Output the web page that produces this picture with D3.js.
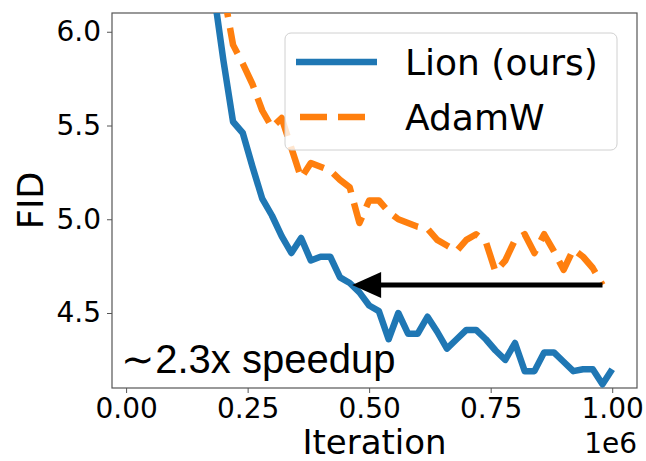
<!DOCTYPE html>
<html lang="en">
<head>
<meta charset="UTF-8">
<title>FID vs Iteration</title>
<script src="https://d3js.org/d3.v7.min.js"></script>
<style>
  body { margin: 0; background: #fff; }
  text { font-family: "DejaVu Sans", sans-serif; fill: #000; }
</style>
</head>
<body>
<div id="chart"></div>
<script>
// Data (iterations in units of 1e6)
const lionIter = [0.18, 0.20, 0.22, 0.24, 0.26, 0.28, 0.30, 0.32, 0.34, 0.36, 0.38, 0.40, 0.42, 0.44,
  0.46, 0.48, 0.50, 0.52, 0.54, 0.56, 0.58, 0.60, 0.62, 0.64, 0.66, 0.68, 0.70, 0.72, 0.74, 0.76,
  0.78, 0.80, 0.82, 0.84, 0.86, 0.88, 0.90, 0.92, 0.94, 0.96, 0.98, 1.00];
const lionFid = [6.22, 5.85, 5.52, 5.46, 5.28, 5.11, 5.02, 4.91, 4.82, 4.90, 4.78, 4.80, 4.80, 4.69,
  4.66, 4.61, 4.54, 4.51, 4.36, 4.50, 4.39, 4.39, 4.48, 4.40, 4.31, 4.36, 4.41, 4.41, 4.36, 4.30,
  4.25, 4.34, 4.19, 4.19, 4.29, 4.29, 4.24, 4.19, 4.20, 4.20, 4.12, 4.20];

const adamIter = [0.20, 0.22, 0.24, 0.26, 0.28, 0.30, 0.32, 0.34, 0.36, 0.38, 0.40, 0.42, 0.44,
  0.46, 0.48, 0.50, 0.52, 0.54, 0.56, 0.58, 0.60, 0.62, 0.64, 0.66, 0.68, 0.70, 0.72, 0.74, 0.76,
  0.78, 0.80, 0.82, 0.84, 0.86, 0.88, 0.90, 0.92, 0.94, 0.96, 0.98];
const adamFid = [6.22, 5.93, 5.83, 5.72, 5.58, 5.49, 5.54, 5.38, 5.22, 5.30, 5.28, 5.26, 5.21,
  5.17, 4.98, 5.10, 5.10, 5.04, 5.00, 4.98, 4.96, 4.95, 4.89, 4.86, 4.83, 4.89, 4.92, 4.88, 4.72,
  4.78, 4.89, 4.92, 4.82, 4.92, 4.83, 4.73, 4.84, 4.80, 4.74, 4.65];

const seriesNames = ["Lion (ours)", "AdamW"];
const xTicks = [0.00, 0.25, 0.50, 0.75, 1.00];
const yTicks = [4.5, 5.0, 5.5, 6.0];

// speedup arrow (data coords) and note
const arrowFrom = [0.98, 4.65];
const arrowTo = [0.465, 4.65];
const noteText = "\u223C2.3x speedup";
const notePos = [-0.01, 4.18];

const W = 646, H = 461;
const margin = {top: 13, right: 9, bottom: 73, left: 112};

const x = d3.scaleLinear().domain([-0.029, 1.051]).range([margin.left, W - margin.right]);
const y = d3.scaleLinear().domain([4.1, 6.1]).range([H - margin.bottom, margin.top]);

const svg = d3.select('#chart').append('svg')
    .attr('width', W)
    .attr('height', H);

svg.append('defs').append('clipPath').attr('id', 'plot-clip')
  .append('rect')
    .attr('x', x.range()[0]).attr('y', y.range()[1])
    .attr('width', x.range()[1] - x.range()[0])
    .attr('height', y.range()[0] - y.range()[1]);

// axes
const xAxis = svg.append('g')
    .attr('transform', `translate(0,${y.range()[0]})`)
    .call(d3.axisBottom(x).tickValues(xTicks).tickFormat(d3.format('.2f')).tickSize(5).tickPadding(5));
const yAxis = svg.append('g')
    .attr('transform', `translate(${x.range()[0]},0)`)
    .call(d3.axisLeft(y).tickValues(yTicks).tickFormat(d3.format('.1f')).tickSize(5).tickPadding(6));

[xAxis, yAxis].forEach(g => {
  g.select('.domain').remove();
  g.selectAll('.tick line').attr('stroke', '#555').attr('stroke-width', 1);
  g.selectAll('.tick text').style('font-family', '"DejaVu Sans"').style('font-size', '28px').attr('fill', '#000');
});

// frame
svg.append('rect')
    .attr('x', x.range()[0]).attr('y', y.range()[1])
    .attr('width', x.range()[1] - x.range()[0])
    .attr('height', y.range()[0] - y.range()[1])
    .attr('fill', 'none')
    .attr('stroke', '#555')
    .attr('stroke-width', 1.2);

const line = d3.line()
    .x(d => x(d[0]))
    .y(d => y(d[1]));

const plot = svg.append('g').attr('clip-path', 'url(#plot-clip)');

plot.append('path')
    .datum(d3.zip(lionIter, lionFid))
    .attr('fill', 'none')
    .attr('stroke', '#1f77b4')
    .attr('stroke-width', 6.5)
    .attr('stroke-linejoin', 'round')
    .attr('d', line);

plot.append('path')
    .datum(d3.zip(adamIter, adamFid))
    .attr('fill', 'none')
    .attr('stroke', '#ff7f0e')
    .attr('stroke-width', 6.5)
    .attr('stroke-dasharray', '27,11')
    .attr('stroke-linejoin', 'round')
    .attr('d', line);

// arrow
const ax1 = x(arrowFrom[0]), ay = y(arrowFrom[1]), ax2 = x(arrowTo[0]);
const headLen = 29, headHalf = 13;
svg.append('line')
    .attr('x1', ax1).attr('y1', ay)
    .attr('x2', ax2 + headLen - 2).attr('y2', ay)
    .attr('stroke', '#000')
    .attr('stroke-width', 5);
svg.append('path')
    .attr('d', `M${ax2},${ay} L${ax2 + headLen},${ay - headHalf} L${ax2 + headLen},${ay + headHalf} Z`)
    .attr('fill', '#000');

// note
svg.append('text')
    .attr('x', x(notePos[0]))
    .attr('y', y(notePos[1]))
    .style('font-family', '"Liberation Sans", Arial, sans-serif')
    .style('font-size', '40px')
    .text(noteText);

// legend
const legend = svg.append('g');
legend.append('rect')
    .attr('x', 285).attr('y', 33)
    .attr('width', 332).attr('height', 117)
    .attr('rx', 6)
    .attr('fill', '#fff').attr('fill-opacity', 0.8)
    .attr('stroke', '#d0d0d0').attr('stroke-width', 1);

const legendStyles = [
  {color: '#1f77b4', dash: null, x1: 296},
  {color: '#ff7f0e', dash: '27,11', x1: 300}
];
seriesNames.forEach((name, i) => {
  const cy = 62 + i * 55;
  legend.append('line')
      .attr('x1', legendStyles[i].x1).attr('x2', i === 0 ? 377 : 366)
      .attr('y1', cy).attr('y2', cy)
      .attr('stroke', legendStyles[i].color)
      .attr('stroke-width', 6.5)
      .attr('stroke-dasharray', legendStyles[i].dash);
  legend.append('text')
      .attr('x', 405).attr('y', cy)
      .attr('dy', '0.36em')
      .style('font-size', '36px')
      .text(name);
});

// axis labels
svg.append('text')
    .attr('x', (x.range()[0] + x.range()[1]) / 2)
    .attr('y', 454)
    .attr('text-anchor', 'middle')
    .style('font-size', '34px')
    .text('Iteration');

svg.append('text')
    .attr('x', x.range()[1])
    .attr('y', 453)
    .attr('text-anchor', 'end')
    .style('font-size', '28px')
    .text('1e6');

svg.append('text')
    .attr('transform', `translate(43,${(y.range()[0] + y.range()[1]) / 2}) rotate(-90)`)
    .attr('text-anchor', 'middle')
    .style('font-size', '35px')
    .text('FID');
</script>
</body>
</html>
